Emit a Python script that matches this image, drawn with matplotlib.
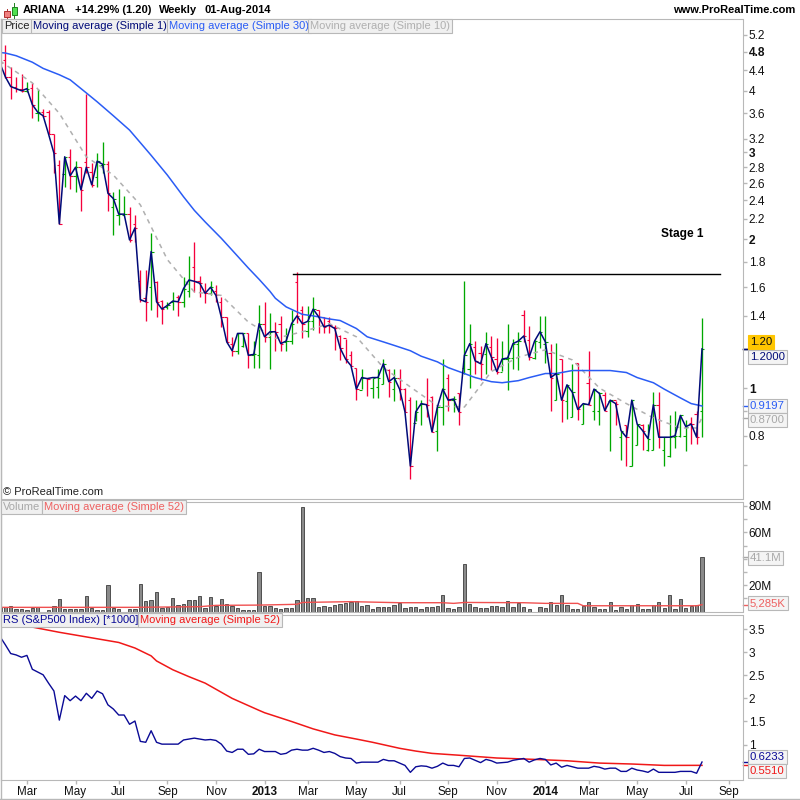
import numpy as np
from matplotlib import pyplot as plt
from matplotlib.patches import Rectangle

plt.rcParams['font.family'] = ['Liberation Sans', 'DejaVu Sans']

# weekly bars, week -1 is cut by the left edge
weeks = np.arange(-1, 130)

price_high = [4.70, 4.95, 4.47, 4.27, 4.33, 4.17, 4.15, 4.04, 3.68, 3.66, 3.27, 2.90, 2.94, 3.05, 2.88, 2.80, 3.94, 2.86, 2.99, 3.15, 2.88,
              2.49, 2.53, 2.45, 2.33, 2.24, 1.73, 1.73, 2.06, 1.65, 1.51, 1.495, 1.565, 1.54, 1.68, 1.85, 1.975, 1.69, 1.63, 1.65, 1.615,
              1.53, 1.39, 1.27, 1.29, 1.29, 1.29, 1.245, 1.47, 1.495, 1.42, 1.36, 1.40, 1.32, 1.44, 1.72, 1.465, 1.465, 1.53, 1.44, 1.395,
              1.395, 1.34, 1.28, 1.255, 1.19, 1.10, 1.095, 1.05, 1.05, 1.095, 1.145, 1.095, 1.095, 1.095, 1.00, 0.96, 0.946, 0.946, 1.05, 0.965,
              0.915, 1.145, 1.07, 0.965, 0.975, 1.645, 1.35, 1.245, 1.215, 1.30, 1.275, 1.265, 1.245, 1.35, 1.255, 1.30, 1.44, 1.335,
              1.25, 1.40, 1.40, 1.23, 1.235, 1.145, 1.015, 1.12, 1.125, 0.93, 1.19, 0.995, 0.98, 0.98, 0.945, 0.94, 0.82, 0.84, 0.945, 0.845, 0.845,
              0.845, 0.98, 0.98, 0.795, 0.88, 0.90, 0.88, 0.86, 0.875, 0.90, 1.385]
price_low = [4.30, 4.25, 3.85, 3.98, 3.98, 3.98, 3.52, 3.47, 3.54, 3.27, 2.73, 2.15, 2.55, 2.53, 2.50, 2.28, 2.73, 2.55, 2.55, 2.73, 2.28,
             2.04, 2.14, 2.25, 1.98, 1.98, 1.495, 1.37, 1.44, 1.39, 1.35, 1.445, 1.44, 1.40, 1.46, 1.53, 1.565, 1.53, 1.49, 1.54, 1.495,
             1.33, 1.24, 1.16, 1.17, 1.21, 1.10, 1.10, 1.10, 1.24, 1.095, 1.19, 1.19, 1.19, 1.23, 1.355, 1.26, 1.27, 1.31, 1.29, 1.29,
             1.29, 1.195, 1.14, 1.125, 1.11, 0.946, 0.995, 0.965, 0.955, 0.955, 1.02, 0.96, 0.94, 0.946, 0.893, 0.655, 0.857, 0.84, 0.873, 0.815,
             0.745, 0.84, 0.90, 0.895, 0.84, 1.07, 1.00, 1.07, 1.04, 1.07, 1.09, 1.07, 1.085, 0.99, 1.095, 1.09, 1.24, 1.14,
             1.145, 1.205, 1.125, 0.90, 0.945, 0.855, 0.865, 0.875, 0.86, 0.845, 0.925, 0.86, 0.84, 0.90, 0.745, 0.84, 0.715, 0.695, 0.695, 0.766, 0.75,
             0.745, 0.75, 0.755, 0.695, 0.725, 0.755, 0.795, 0.745, 0.77, 0.77, 0.795]
price_open = [4.60, 4.62, 4.27, 4.08, 4.04, 4.00, 4.06, 3.60, 3.62, 3.62, 3.27, 2.83, 2.71, 2.94, 2.69, 2.80, 2.87, 2.74, 2.67, 2.83, 2.84,
              2.33, 2.24, 2.245, 2.25, 2.15, 1.65, 1.52, 1.60, 1.64, 1.50, 1.46, 1.495, 1.53, 1.495, 1.575, 1.76, 1.645, 1.565, 1.555, 1.575,
              1.495, 1.39, 1.23, 1.19, 1.215, 1.29, 1.165, 1.165, 1.35, 1.27, 1.305, 1.35, 1.24, 1.245, 1.64, 1.44, 1.305, 1.365, 1.44, 1.39,
              1.365, 1.33, 1.275, 1.26, 1.165, 1.10, 0.99, 1.05, 1.00, 1.005, 1.02, 1.09, 0.995, 1.05, 0.995, 0.945, 0.85, 0.925, 0.93, 0.96,
              0.82, 0.915, 1.05, 0.945, 0.975, 1.10, 1.095, 1.21, 1.18, 1.17, 1.21, 1.145, 1.08, 1.145, 1.15, 1.23, 1.405, 1.25,
              1.15, 1.24, 1.23, 1.18, 0.945, 1.145, 0.94, 0.875, 1.125, 0.845, 1.025, 0.90, 0.90, 0.97, 0.94, 0.945, 0.795, 0.84, 0.695, 0.766, 0.84,
              0.75, 0.75, 0.925, 0.75, 0.73, 0.795, 0.80, 0.80, 0.85, 0.885, 0.90]
price_close = [4.55, 4.27, 4.08, 4.04, 4.00, 4.04, 3.75, 3.62, 3.56, 3.27, 2.99, 2.15, 2.94, 2.69, 2.80, 2.52, 2.80, 2.58, 2.88, 2.84, 2.48,
               2.42, 2.25, 2.25, 1.995, 2.11, 1.51, 1.495, 1.89, 1.495, 1.445, 1.47, 1.50, 1.495, 1.59, 1.655, 1.645, 1.63, 1.555, 1.60, 1.54,
               1.39, 1.24, 1.19, 1.29, 1.29, 1.165, 1.17, 1.35, 1.27, 1.30, 1.30, 1.23, 1.245, 1.35, 1.40, 1.35, 1.365, 1.445, 1.395, 1.33,
               1.34, 1.32, 1.205, 1.145, 1.11, 0.995, 1.05, 1.045, 1.05, 1.05, 1.12, 1.03, 1.05, 0.995, 0.895, 0.695, 0.895, 0.93, 0.925, 0.815,
               0.915, 0.995, 0.945, 0.95, 0.895, 1.165, 1.23, 1.135, 1.12, 1.23, 1.155, 1.08, 1.145, 1.15, 1.23, 1.245, 1.275, 1.155,
               1.245, 1.30, 1.24, 1.05, 1.07, 0.945, 1.015, 0.98, 0.905, 0.93, 0.925, 0.995, 0.975, 0.90, 0.945, 0.93, 0.82, 0.795, 0.945, 0.845, 0.82,
               0.79, 0.925, 0.795, 0.795, 0.795, 0.80, 0.88, 0.835, 0.845, 0.795, 1.20]

ma30_weeks = [-1, 0, 2, 5, 7, 10, 12, 15, 17, 20, 23, 25, 27, 30, 33, 35, 37, 40, 43, 45, 47, 49, 50, 52, 55, 57, 60, 62, 65, 67, 70, 72, 75, 77,
              80, 82, 85, 87, 90, 92, 95, 97, 100, 102, 105, 107, 110, 112, 115, 117, 120, 122, 125, 127, 129]
ma30_values = [4.78, 4.77, 4.71, 4.57, 4.44, 4.31, 4.21, 3.96, 3.80, 3.56, 3.33, 3.14, 2.96, 2.70, 2.44, 2.29, 2.17, 2.01, 1.85, 1.75, 1.66, 1.57,
               1.52, 1.46, 1.41, 1.40, 1.38, 1.37, 1.32, 1.27, 1.24, 1.22, 1.19, 1.16, 1.13, 1.10, 1.07, 1.05, 1.03, 1.025, 1.035, 1.05,
               1.07, 1.07, 1.085, 1.085, 1.085, 1.085, 1.075, 1.05, 1.025, 0.995, 0.955, 0.93, 0.9197]

ma10_weeks = [-1, 0, 5, 10, 15, 20, 25, 30, 35, 40, 45, 49, 50, 55, 60, 65, 70, 75, 80, 85, 90, 95, 100, 105, 110, 115, 120, 125, 128, 129]
ma10_values = [4.60, 4.52, 4.15, 3.60, 2.94, 2.70, 2.35, 1.82, 1.565, 1.54, 1.36, 1.28, 1.26, 1.30, 1.35, 1.27, 1.10, 1.005, 0.92, 0.915,
               1.08, 1.155, 1.195, 1.14, 1.00, 0.93, 0.87, 0.83, 0.83, 0.87]

# volume in millions
volume = [3.3, 3.3, 4.0, 1.8, 1.8, 1.3, 2.5, 3.3, 0.0, 1.0, 4.0, 9.3, 1.8, 1.8, 1.8, 2.0, 11.6, 2.5, 1.0, 1.0, 20.0,
          2.5, 1.8, 0.0, 1.8, 1.8, 20.7, 7.8, 8.6, 14.6, 2.8, 3.3, 10.0, 4.8, 5.6, 8.6, 8.6, 11.6, 2.5, 10.9, 4.0,
          9.3, 5.6, 4.0, 2.5, 1.0, 1.0, 1.0, 29.8, 4.0, 4.0, 2.5, 1.8, 2.5, 2.5, 8.6, 79.0, 10.0, 10.0, 3.3, 4.0,
          3.3, 4.8, 5.6, 6.3, 7.0, 7.8, 4.0, 4.8, 1.8, 3.3, 3.3, 3.3, 4.8, 6.3, 2.5, 3.3, 3.3, 1.8, 3.3, 3.3,
          4.0, 12.4, 2.5, 1.8, 3.3, 35.9, 5.6, 3.3, 2.5, 2.5, 4.0, 4.0, 3.3, 7.8, 3.3, 6.3, 3.3, 1.8,
          0.0, 3.3, 2.5, 7.0, 4.8, 12.4, 4.8, 1.8, 1.8, 4.0, 7.0, 3.3, 1.8, 1.8, 7.0, 1.0, 3.3, 1.8, 4.8, 5.6, 1.8,
          1.8, 4.8, 7.0, 2.5, 12.4, 1.8, 9.3, 2.5, 4.0, 4.8, 41.1]

vol_ma_weeks = [-1, 24, 36, 39, 47, 54, 55, 64, 73, 81, 83, 85, 96, 100, 106, 107, 128, 129]
vol_ma_values = [3.3, 3.3, 3.8, 4.8, 5.0, 5.6, 7.0, 7.6, 6.8, 6.8, 6.3, 7.0, 6.8, 6.3, 6.3, 4.5, 4.5, 5.285]

rs_values = [3.34, 3.16, 2.97, 2.94, 2.89, 2.93, 2.63, 2.57, 2.51, 2.33, 2.16, 1.53, 2.06, 1.95, 2.05, 1.95, 2.11, 2.00, 2.16, 2.10, 1.86,
             1.77, 1.64, 1.64, 1.44, 1.51, 1.07, 1.05, 1.30, 1.05, 1.01, 1.01, 1.01, 1.01, 1.10, 1.12, 1.14, 1.12, 1.10, 1.11, 1.09,
             1.01, 0.86, 0.83, 0.90, 0.90, 0.79, 0.80, 0.90, 0.85, 0.85, 0.85, 0.79, 0.81, 0.88, 0.90, 0.88, 0.88, 0.92, 0.88, 0.83,
             0.85, 0.81, 0.74, 0.71, 0.70, 0.60, 0.62, 0.62, 0.62, 0.62, 0.68, 0.65, 0.65, 0.60, 0.55, 0.40, 0.52, 0.54, 0.53, 0.49,
             0.53, 0.60, 0.55, 0.55, 0.52, 0.70, 0.71, 0.66, 0.61, 0.68, 0.65, 0.60, 0.61, 0.62, 0.66, 0.68, 0.70, 0.62,
             0.67, 0.70, 0.68, 0.56, 0.60, 0.51, 0.55, 0.52, 0.49, 0.49, 0.49, 0.53, 0.51, 0.47, 0.49, 0.49, 0.42, 0.42, 0.49, 0.45, 0.43,
             0.40, 0.47, 0.40, 0.40, 0.40, 0.40, 0.42, 0.42, 0.42, 0.38, 0.6233]

rs_ma_weeks = [0, 6, 10, 16, 21, 24, 27, 28, 31, 34, 37, 42, 47, 48, 53, 57, 61, 65, 68, 73, 76, 79, 84, 91, 98, 104, 110, 116, 122, 129]
rs_ma_values = [3.66, 3.52, 3.43, 3.31, 3.21, 3.09, 2.92, 2.81, 2.62, 2.47, 2.33, 2.00, 1.74, 1.69, 1.50, 1.34, 1.21, 1.12, 1.05, 0.92,
                0.86, 0.81, 0.77, 0.71, 0.68, 0.65, 0.60, 0.58, 0.55, 0.551]

month_weeks = [4, 13, 21, 30, 39, 48, 56, 65, 73, 82, 91, 100, 108, 117, 126, 134]
month_labels = ['Mar', 'May', 'Jul', 'Sep', 'Nov', '2013', 'Mar', 'May', 'Jul', 'Sep', 'Nov', '2014', 'Mar', 'May', 'Jul', 'Sep']

price_ticks = [5.2, 4.8, 4.4, 4, 3.6, 3.2, 3, 2.8, 2.6, 2.4, 2.2, 2, 1.8, 1.6, 1.4, 1.2, 1, 0.9, 0.8, 0.7]
price_tick_labels = ['5.2', '4.8', '4.4', '4', '3.6', '3.2', '3', '2.8', '2.6', '2.4', '2.2', '2', '1.8', '1.6', '1.4', '', '1', '', '0.8', '']
price_bold = ['4.8', '3', '2', '1']
vol_ticks = [80, 70, 60, 50, 40, 30, 20, 10]
vol_tick_labels = ['80M', '', '60M', '', '', '', '20M', '']
rs_ticks = [3.5, 3, 2.5, 2, 1.5, 1]
rs_tick_labels = ['3.5', '3', '2.5', '2', '1.5', '1']
resistance_level = 1.70

GREY = '#b8b8b8'
RED = '#f5003c'
GREEN = '#00a800'
NAVY = '#000a78'
BLUE = '#2a5cf5'

fig = plt.figure(figsize=(8, 8), dpi=100)


def panel(top, bottom):
    left, right = 1.0, 742.5
    ax = fig.add_axes([left / 800, 1 - bottom / 800, (right - left) / 800, (bottom - top) / 800])
    for s in ax.spines.values():
        s.set_color(GREY)
    ax.yaxis.tick_right()
    ax.tick_params(axis='y', color=GREY, length=3, width=1, labelsize=8.6, pad=1.5, labelcolor='#111111')
    ax.tick_params(axis='x', bottom=False, labelbottom=False)
    ax.set_xlim(-0.8, 136.5)
    return ax


def label_box(x, y, text, color):
    fig.text(x / 800, 1 - y / 800, text, color=color, fontsize=8.0, va='center', ha='left',
             bbox=dict(boxstyle='square,pad=0.2', fc='#f0f0f0', ec=GREY, lw=0.8), zorder=10)


def value_tag(ax, value, y, text, color, fc='#f4f4f4'):
    ax.plot([1.0, 1.006], [value, value], color=color, lw=1, clip_on=False, transform=ax.get_yaxis_transform())
    fig.text(750 / 800, 1 - y / 800, text, color=color, fontsize=8.2, va='center', ha='left',
             bbox=dict(boxstyle='square,pad=0.15', fc=fc, ec=GREY if fc != '#ffc600' else fc, lw=0.8), zorder=10)


# price panel
ax_p = panel(19, 499)
ax_p.set_yscale('log')
ax_p.set_ylim(0.596, 5.59)
for w, h, l, o, c in zip(weeks, price_high, price_low, price_open, price_close):
    col = GREEN if c >= o else RED
    ax_p.plot([w, w], [l, h], color=col, lw=0.95, solid_capstyle='butt')
    ax_p.plot([w - 0.45, w], [o, o], color=col, lw=0.8, solid_capstyle='butt')
    ax_p.plot([w, w + 0.45], [c, c], color=col, lw=0.8, solid_capstyle='butt')
ax_p.plot(ma10_weeks, ma10_values, color='#b0b0b0', lw=1.1, ls=(0, (3, 3)))
ax_p.plot(ma30_weeks, ma30_values, color=BLUE, lw=1.1)
ax_p.plot(weeks, price_close, color=NAVY, lw=1.1)
ax_p.plot([53.3, 132.4], [resistance_level, resistance_level], color='black', lw=1)
ax_p.text(121.5, 2.05, 'Stage 1', fontsize=8.6, fontweight='bold', va='center', ha='left')
ax_p.set_yticks(price_ticks)
ax_p.set_yticklabels(price_tick_labels)
ax_p.minorticks_off()
for t in ax_p.get_yticklabels():
    if t.get_text() in price_bold:
        t.set_fontweight('bold')
value_tag(ax_p, 1.20, 342, '1.20', '#111111', fc='#ffc600')
value_tag(ax_p, 1.20, 357, '1.2000', NAVY)
value_tag(ax_p, 0.9197, 406, '0.9197', BLUE)
value_tag(ax_p, 0.87, 420, '0.8700', '#a8a8a8')

# volume panel
ax_v = panel(502, 611.7)
ax_v.bar(weeks, volume, width=0.62, color='#8a8a8a', edgecolor='#3c3c3c', lw=0.6)
ax_v.plot(vol_ma_weeks, vol_ma_values, color='#f05050', lw=1)
ax_v.set_ylim(0, 83)
ax_v.set_yticks(vol_ticks)
ax_v.set_yticklabels(vol_tick_labels)
value_tag(ax_v, 41.1, 558, '41.1M', '#a8a8a8')
value_tag(ax_v, 5.285, 603, '5,285K', '#ee6060')

# RS panel
ax_r = panel(614.5, 780)
ax_r.plot(rs_ma_weeks, rs_ma_values, color='#f01818', lw=1.1)
ax_r.plot(weeks, rs_values, color='#0a0a96', lw=1.0)
ax_r.set_ylim(0.234, 3.815)
ax_r.set_yticks(rs_ticks)
ax_r.set_yticklabels(rs_tick_labels)
ax_r.tick_params(axis='x', bottom=True, labelbottom=True, color=GREY, length=3, width=1, labelsize=8.4, pad=1, labelcolor='#111111')
ax_r.set_xticks(month_weeks)
ax_r.set_xticklabels(month_labels)
for t in ax_r.get_xticklabels():
    if t.get_text() in ('2013', '2014'):
        t.set_fontweight('bold')
value_tag(ax_r, 0.6233, 757, '0.6233', '#0a0a96')
value_tag(ax_r, 0.551, 771, '0.5510', '#f01818')

# header and legend boxes
for x, s in [(23, 'ARIANA'), (75, '+14.29% (1.20)'), (159, 'Weekly'), (205, '01-Aug-2014')]:
    fig.text(x / 800, 1 - 10 / 800, s, fontsize=8.0, fontweight='bold', va='center')
fig.text(795 / 800, 1 - 10 / 800, 'www.ProRealTime.com', fontsize=8.05, fontweight='bold', va='center', ha='right')
fig.text(3 / 800, 1 - 492 / 800, '© ProRealTime.com', fontsize=8.0, va='center', color='#222222')

label_box(4, 26, 'Price', '#222222')
label_box(33, 26, 'Moving average (Simple 1)', NAVY)
label_box(169, 26, 'Moving average (Simple 30)', BLUE)
label_box(310, 26, 'Moving average (Simple 10)', '#b0b0b0')
label_box(3, 507, 'Volume', '#a8a8a8')
label_box(44, 507, 'Moving average (Simple 52)', '#ee6060')
label_box(3, 620, 'RS (S&P500 Index) [*1000]', '#0a0a96')
label_box(140, 620, 'Moving average (Simple 52)', '#f01818')

# candle icon in the header
for x, y, w, h, fc, ec in [(3.5, 11, 6.5, 6, '#f08080', '#b03030'), (11.5, 6.5, 5.8, 8.5, '#50e050', '#208020')]:
    fig.add_artist(Rectangle((x / 800, 1 - (y + h) / 800), w / 800, h / 800, transform=fig.transFigure,
                             fc=fc, ec=ec, lw=0.7))
fig.add_artist(plt.Line2D([14.3 / 800] * 2, [1 - 3 / 800, 1 - 19 / 800], color='#208020', lw=0.7, zorder=0))
fig.add_artist(plt.Line2D([6.5 / 800] * 2, [1 - 9 / 800, 1 - 19 / 800], color='#b03030', lw=0.7, zorder=0))

# outer frame
fig.add_artist(plt.Line2D([0, 1], [0.6 / 800, 0.6 / 800], color=GREY, lw=1))
fig.add_artist(plt.Line2D([0.6 / 800, 0.6 / 800], [0, 1 - 19 / 800], color=GREY, lw=1))

fig.savefig('out.png', dpi=100)
